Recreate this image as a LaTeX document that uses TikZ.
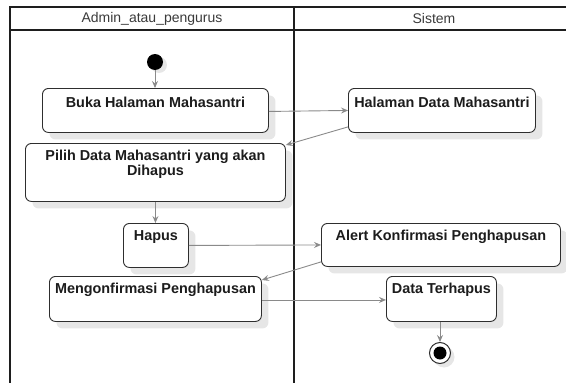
\documentclass[tikz,border=0pt]{standalone}
\usepackage{fontspec}
\setmainfont{Liberation Sans}
\usetikzlibrary{arrows.meta,shadows}

\definecolor{frameline}{HTML}{1E1E1E}
\definecolor{boxline}{HTML}{2E2E2E}
\definecolor{flowline}{HTML}{8A8A8A}
\definecolor{shadowgray}{HTML}{E6E6E6}
\definecolor{labeltext}{HTML}{1C1C1C}
\definecolor{headtext}{HTML}{3A3A3A}

\tikzset{
  lane/.style={line width=1.4pt, draw=frameline},
  headlbl/.style={font=\fontsize{14}{15}\selectfont, text=headtext, inner sep=0pt},
  actbox/.style={draw=boxline, fill=white, rounded corners=6pt, line width=0.9pt,
    inner sep=0pt, anchor=north west,
    drop shadow={shadow xshift=7pt, shadow yshift=-7pt, fill=shadowgray, opacity=1}},
  actlbl/.style={font=\bfseries\fontsize{14.4}{15}\selectfont, text=labeltext,
    align=center, inner sep=0pt, anchor=north},
  flow/.style={draw=flowline, line width=0.9pt,
    -{Stealth[length=7pt,width=6pt,inset=2.5pt]}},
  startdot/.style={circle, fill=black, minimum size=16pt, inner sep=0pt,
    drop shadow={shadow xshift=4pt, shadow yshift=-3pt, fill=shadowgray, opacity=1}},
  enddot/.style={circle, draw=boxline, line width=1pt, fill=white, minimum size=21pt, inner sep=0pt,
    drop shadow={shadow xshift=4pt, shadow yshift=-4pt, fill=shadowgray, opacity=1}},
}

\begin{document}
\begin{tikzpicture}[x=1pt,y=-1pt]
\useasboundingbox (0,0) rectangle (566,383);

% swimlane frame
\draw[lane] (10,390) -- (10,7) -- (580,7);
\draw[lane] (10,30) -- (580,30);
\draw[lane] (294,7) -- (294,390);
\node[headlbl] (laneA) at (152,18.5) {Admin\_atau\_pengurus};
\node[headlbl] (laneB) at (434,18.5) {Sistem};

% initial state
\node[startdot] (start) at (155,62) {};

% actions
\node[actbox, minimum width=226pt, minimum height=44pt] (buka) at (42,88) {};
\node[actlbl] (bukaT) at ([yshift=-9pt]buka.north) {Buka Halaman Mahasantri};

\node[actbox, minimum width=187pt, minimum height=44pt] (halaman) at (348,88) {};
\node[actlbl] (halamanT) at ([yshift=-9pt]halaman.north) {Halaman Data Mahasantri};

\node[actbox, minimum width=260pt, minimum height=58pt] (pilih) at (25,143) {};
\node[actlbl] (pilihT) at ([yshift=-7pt]pilih.north) {Pilih Data Mahasantri yang akan\\Dihapus};

\node[actbox, minimum width=65pt, minimum height=44pt] (hapus) at (123,223) {};
\node[actlbl] (hapusT) at ([yshift=-7pt]hapus.north) {Hapus};

\node[actbox, minimum width=239pt, minimum height=43pt] (alert) at (321,223) {};
\node[actlbl] (alertT) at ([yshift=-7pt]alert.north) {Alert Konfirmasi Penghapusan};

\node[actbox, minimum width=212pt, minimum height=45pt] (meng) at (49,276) {};
\node[actlbl] (mengT) at ([yshift=-7pt]meng.north) {Mengonfirmasi Penghapusan};

\node[actbox, minimum width=110pt, minimum height=45pt] (data) at (386,276) {};
\node[actlbl] (dataT) at ([yshift=-7pt]data.north) {Data Terhapus};

% final state
\node[enddot] (finish) at (440,353) {};
\node[circle, fill=black, minimum size=13pt, inner sep=0pt] (finishcore) at (finish.center) {};

% control flow
\draw[flow] (start.south) -- (buka.north -| start.south);
\draw[flow] ([yshift=-1pt]buka.east) -- (halaman.west);
\draw[flow] ([yshift=6pt]halaman.south west) -- ([yshift=-2pt]pilih.north east);
\draw[flow] (pilih.south) -- (hapus.north -| pilih.south);
\draw[flow] (hapus.east) -- (alert.west);
\draw[flow] ([yshift=5pt]alert.south west) -- ([yshift=-4pt]meng.north east);
\draw[flow] ([yshift=-1pt]meng.east) -- ([yshift=-1pt]data.west);
\draw[flow] (data.south -| finish.north) -- (finish.north);
\end{tikzpicture}
\end{document}
